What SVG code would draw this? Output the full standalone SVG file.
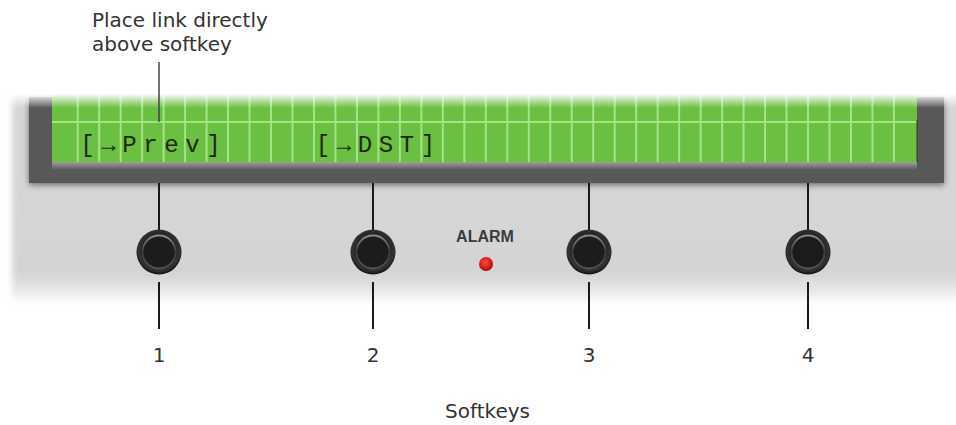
<svg xmlns="http://www.w3.org/2000/svg" width="956" height="425" viewBox="0 0 956 425">
<style>
.lbl{font-family:"DejaVu Sans","Verdana",sans-serif;font-size:20px;fill:#333}
.lcd{font-family:"Liberation Mono","DejaVu Sans Mono",monospace;font-size:24px;fill:#1c2a12}
.key{stroke:#1a1a1a;stroke-width:2;fill:none}
</style>
<defs>
<linearGradient id="panelG" x1="0" y1="0" x2="0" y2="1">
<stop offset="0" stop-color="#d6d6d6"/>
<stop offset="0.86" stop-color="#d4d4d4"/>
<stop offset="0.94" stop-color="#e9e9e9"/>
<stop offset="1" stop-color="#ffffff"/>
</linearGradient>
<filter id="soft" x="-5%" y="-10%" width="110%" height="120%"><feGaussianBlur stdDeviation="3"/></filter>
<filter id="shadow" x="-5%" y="-20%" width="110%" height="140%">
<feGaussianBlur in="SourceAlpha" stdDeviation="3"/>
<feOffset dx="0" dy="2"/>
<feComponentTransfer><feFuncA type="linear" slope="0.5"/></feComponentTransfer>
<feMerge><feMergeNode/><feMergeNode in="SourceGraphic"/></feMerge>
</filter>
<linearGradient id="fadeTop" x1="0" y1="0" x2="0" y2="1">
<stop offset="0" stop-color="#fff" stop-opacity="1"/>
<stop offset="0.55" stop-color="#fff" stop-opacity="1"/>
<stop offset="1" stop-color="#fff" stop-opacity="0"/>
</linearGradient>
<linearGradient id="lip" x1="0" y1="0" x2="0" y2="1">
<stop offset="0" stop-color="#a0a0a0"/>
<stop offset="1" stop-color="#585858"/>
</linearGradient>
<radialGradient id="btnOuter" cx="0.5" cy="0.45" r="0.55">
<stop offset="0.6" stop-color="#222"/>
<stop offset="0.85" stop-color="#333"/>
<stop offset="1" stop-color="#0e0e0e"/>
</radialGradient>
<linearGradient id="btnRing" x1="0" y1="0" x2="0" y2="1">
<stop offset="0" stop-color="#8a8a8a"/>
<stop offset="0.5" stop-color="#3a3a3a"/>
<stop offset="1" stop-color="#555"/>
</linearGradient>
<radialGradient id="led" cx="0.45" cy="0.4" r="0.6">
<stop offset="0" stop-color="#ff4a3a"/>
<stop offset="0.7" stop-color="#d41a1a"/>
<stop offset="1" stop-color="#8a1010"/>
</radialGradient>
<g id="btn">
<circle r="22.5" fill="url(#btnOuter)"/>
<circle r="16.5" fill="#1c1c1c" stroke="url(#btnRing)" stroke-width="1.8"/>
</g>
</defs>

<g id="panel">
<rect x="12" y="92" width="960" height="212" fill="url(#panelG)" filter="url(#soft)"/>
<rect x="29" y="97" width="915" height="86" fill="#585858" filter="url(#shadow)"/>
</g>

<g id="lcd">
<rect x="52" y="162" width="865" height="8" fill="url(#lip)"/>
<rect x="52" y="90" width="865" height="72" fill="#6bbf41"/>
<path d="M52 122H917" stroke="#a4e388" stroke-width="2"/>
<path stroke="#a4e388" stroke-width="2" d="M77.7 90V162M99.18 90V162M120.66 90V162M142.14 90V162M163.62 90V162M185.1 90V162M206.58 90V162M228.06 90V162M249.54 90V162M271.02 90V162M292.5 90V162M313.98 90V162M335.46 90V162M356.94 90V162M378.42 90V162M399.9 90V162M421.38 90V162M442.86 90V162M464.34 90V162M485.82 90V162M507.3 90V162M528.78 90V162M550.26 90V162M571.74 90V162M593.22 90V162M614.7 90V162M636.18 90V162M657.66 90V162M679.14 90V162M700.62 90V162M722.1 90V162M743.58 90V162M765.06 90V162M786.54 90V162M808.02 90V162M829.5 90V162M850.98 90V162M872.46 90V162M893.94 90V162"/>
<path d="M917 120V162" stroke="#333" stroke-width="1"/>
<text class="lcd" text-anchor="middle" y="152" x="87.5 108.5 129.5 150.5 171.5 192.5 213.5">[→Prev]</text>
<text class="lcd" text-anchor="middle" y="152" x="323 344 365 386 407 428">[→DST]</text>
</g>

<rect x="0" y="76" width="956" height="32" fill="url(#fadeTop)"/>

<g id="alarm">
<text x="485" y="242" text-anchor="middle" font-family="Liberation Sans,Arial,sans-serif" font-weight="bold" font-size="16" fill="#3a3a3a">ALARM</text>
<circle cx="486" cy="264" r="7" fill="url(#led)"/>
</g>

<g id="connectors">
<path d="M159 62V122" stroke="#444" stroke-width="1.5"/>
<path class="key" d="M159 183V231M159 282V329"/>
<path class="key" d="M373 183V231M373 282V329"/>
<path class="key" d="M589 183V231M589 282V329"/>
<path class="key" d="M808 183V231M808 282V329"/>
</g>

<g id="softkey1"><use href="#btn" x="159" y="252"/><text class="lbl" x="159" y="362" text-anchor="middle">1</text></g>
<g id="softkey2"><use href="#btn" x="373" y="252"/><text class="lbl" x="373" y="362" text-anchor="middle">2</text></g>
<g id="softkey3"><use href="#btn" x="589" y="252"/><text class="lbl" x="589" y="362" text-anchor="middle">3</text></g>
<g id="softkey4"><use href="#btn" x="808" y="252"/><text class="lbl" x="808" y="362" text-anchor="middle">4</text></g>

<g id="notes">
<text class="lbl" x="92" y="27">Place link directly</text>
<text class="lbl" x="92" y="51">above softkey</text>
<text class="lbl" x="487.5" y="418" text-anchor="middle">Softkeys</text>
</g>
</svg>
